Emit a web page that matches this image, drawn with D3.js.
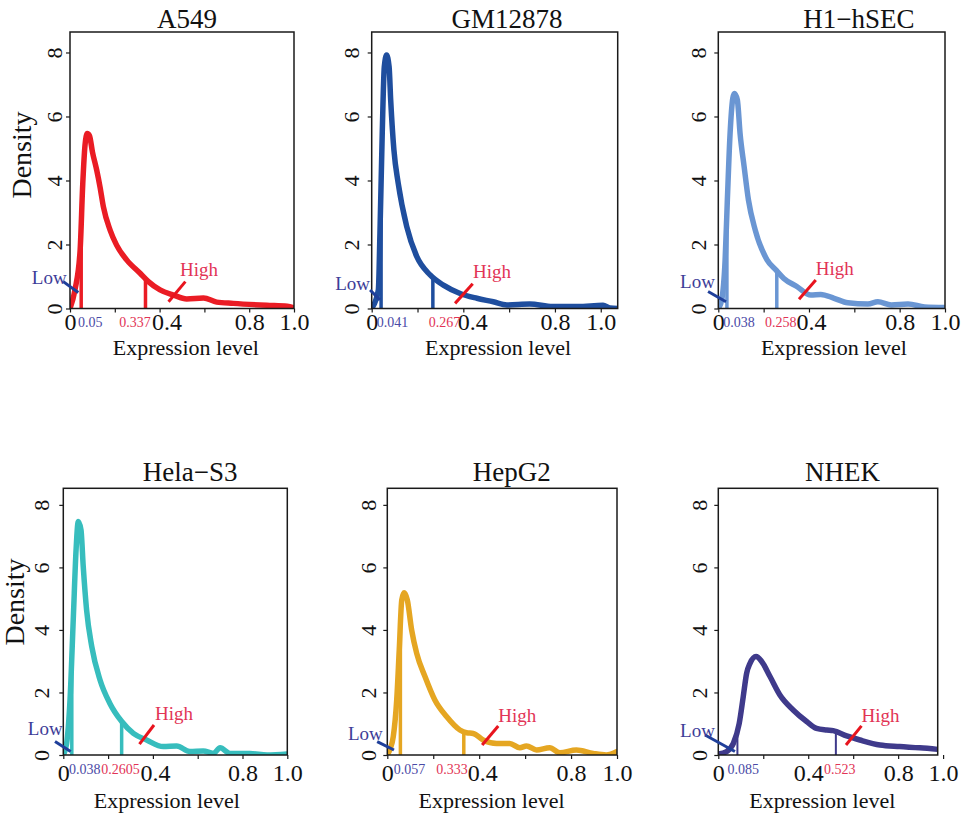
<!DOCTYPE html>
<html><head><meta charset="utf-8">
<script src="https://cdn.jsdelivr.net/npm/d3@7"></script>
<style>
body{margin:0;background:#fff}
svg{display:block}
text{font-family:"Liberation Serif","Times New Roman",serif}
</style>
</head><body>
<svg id="chart" width="963" height="816"></svg>
<script>
// ---------------- data ----------------
const cellLines = ["A549", "GM12878", "H1\u2212hSEC", "Hela\u2212S3", "HepG2", "NHEK"];
const lineColors = ["#ea1c24", "#1f4e9e", "#6a96d3", "#37bdbd", "#e5a622", "#3f3a8b"];
const lowThresh = [0.05, 0.041, 0.038, 0.038, 0.057, 0.085];
const highThresh = [0.337, 0.267, 0.258, 0.2605, 0.333, 0.523];
const lowLabels = ["0.05", "0.041", "0.038", "0.038", "0.057", "0.085"];
const highLabels = ["0.337", "0.267", "0.258", "0.2605", "0.333", "0.523"];
const xTicks = [0, 0.2, 0.4, 0.6, 0.8, 1.0];
const xTickLabels = ["0", "", "0.4", "", "0.8", "1.0"];
const yTicks = [0, 2, 4, 6, 8];
const xMax = [1.0, 1.074, 1.0, 1.0, 1.0, 0.976];

const densityX = [
  [0, .022, .045, .057, .067, .077, .087, .1, .119, .134, .149, .179, .208, .253, .313, .35, .402, .462, .521, .596, .655, .729, .878, .97, 1.0],
  [0, .029, .036, .046, .055, .065, .076, .083, .097, .116, .153, .197, .255, .313, .386, .459, .531, .59, .69, .79, .9, 1.01, 1.04, 1.074],
  [0, .015, .03, .04, .052, .064, .071, .084, .096, .114, .133, .163, .215, .256, .289, .348, .408, .452, .511, .571, .66, .704, .763, .837, .91, 1.0],
  [0, .015, .03, .045, .057, .067, .079, .089, .104, .127, .164, .208, .261, .313, .372, .446, .506, .565, .625, .67, .7, .744, .833, .91, 1.0],
  [0, .012, .026, .041, .052, .063, .073, .087, .106, .128, .164, .207, .258, .316, .345, .374, .417, .476, .533, .577, .606, .65, .707, .751, .823, .896, .953, 1.0],
  [0, .037, .067, .093, .111, .126, .141, .168, .193, .23, .274, .333, .393, .437, .482, .511, .571, .63, .719, .807, .896, .976]
];
const densityY = [
  [0, .58, 1.8, 3.9, 5.1, 5.47, 5.4, 4.9, 4.33, 3.8, 3.18, 2.45, 1.98, 1.52, 1.1, .84, .58, .42, .3, .33, .2, .16, .1, .07, .02],
  [0, .58, 2.35, 5.47, 7.55, 7.92, 7.55, 6.5, 4.95, 3.9, 2.56, 1.62, 1.05, .73, .47, .32, .21, .11, .14, .06, .06, .1, .02, 0],
  [0, .27, 1.5, 3.4, 5.47, 6.57, 6.72, 6.52, 5.47, 4.43, 3.39, 2.45, 1.52, 1.19, .94, .68, .42, .44, .32, .18, .14, .21, .11, .14, .05, .03],
  [0, .37, 1.76, 4.43, 6.56, 7.47, 7.2, 6.03, 4.64, 3.47, 2.4, 1.65, 1.07, .69, .48, .27, .29, .11, .13, .05, .23, .05, .05, 0, .03],
  [.02, .18, .59, 1.76, 3.36, 4.96, 5.19, 4.96, 4.0, 3.25, 2.51, 1.76, 1.23, .8, .71, .69, .48, .37, .37, .23, .29, .16, .23, .07, .16, .05, 0, .11],
  [.03, .11, .37, 1.01, 1.87, 2.61, 2.93, 3.15, 2.99, 2.51, 1.92, 1.44, 1.07, .85, .8, .78, .61, .48, .32, .27, .23, .18]
];

// annotation anchors (data units)
const lowMarkX1 = [-.03, -.007, -.045, -.037, -.044, -.059];
const lowMarkY1 = [.84, .58, .53, .43, .43, .64];
const lowMarkX2 = [.037, .036, .034, .033, .029, .074];
const lowMarkY2 = [.5, .27, .21, .11, .16, .11];
const highMarkX1 = [.44, .364, .356, .34, .413, .568];
const highMarkY1 = [.21, .16, .29, .35, .32, .32];
const highMarkX2 = [.515, .441, .43, .405, .483, .637];
const highMarkY2 = [.84, .77, .89, .96, .93, .93];
const lowTextX = [-.015, -.007, -.015, -.003, -.02, -.015];
const lowTextY = [.78, .58, .63, .64, .48, .59];
const highTextX = [.491, .442, .43, .409, .483, .637];
const highTextY = [1.0, .94, 1.05, 1.12, 1.07, 1.07];
const lowLabelX = [.09, .091, .091, .096, .097, .111];
const highLabelX = [.29, .318, .275, .255, .282, .54];
const titleX = [.522, .591, .62, .566, .542, .553];
const xLabelX = [.517, .552, .51, .462, .454, .463];

// ---------------- layout ----------------
const boxes = [
  {l: 70, r: 294, t: 32, b: 308.5, yTop: 8.64, tickGap: 8, shift04: 7},
  {l: 371.7, r: 617.7, t: 32, b: 308.5, yTop: 8.64, tickGap: 13, shift04: 9},
  {l: 718.3, r: 945, t: 32, b: 308.5, yTop: 8.64, tickGap: 12, shift04: 2},
  {l: 63.3, r: 287.3, t: 488.3, b: 755, yTop: 8.53, tickGap: 14, shift04: 2},
  {l: 387.3, r: 617, t: 488.3, b: 755, yTop: 8.53, tickGap: 11, shift04: 3},
  {l: 718.3, r: 937.7, t: 488.3, b: 755, yTop: 8.53, tickGap: 11, shift04: 0}
];
const rowText = [
  {title: 28, tick: 330, small: 327, xlab: 355, density: 155},
  {title: 481, tick: 781, small: 774, xlab: 808, density: 602}
];

const svg = d3.select("#chart");
const LOWC = "#1f3f9a", LOWT = "#3d3d98", HIGHC = "#e8141e", HIGHT = "#e23456";

function interp(xs, ys, x) {
  const i = d3.bisectRight(xs, x);
  if (i <= 0) return ys[0];
  if (i >= xs.length) return ys[ys.length - 1];
  const t = (x - xs[i - 1]) / (xs[i] - xs[i - 1]);
  return ys[i - 1] + t * (ys[i] - ys[i - 1]);
}

cellLines.forEach((name, k) => {
  const bx = boxes[k];
  const rt = rowText[k < 3 ? 0 : 1];
  const x = d3.scaleLinear().domain([0, xMax[k]]).range([bx.l, bx.r]);
  const y = d3.scaleLinear().domain([0, bx.yTop]).range([bx.b, bx.t]);
  const g = svg.append("g");

  const clipId = "clip" + k;
  svg.append("clipPath").attr("id", clipId).append("rect")
    .attr("x", bx.l).attr("y", bx.t).attr("width", bx.r - bx.l).attr("height", bx.b - bx.t);

  const pts = densityX[k].map((v, i) => [v, densityY[k][i]]);
  const line = d3.line().x(d => x(d[0])).y(d => y(d[1])).curve(d3.curveMonotoneX);

  const pg = g.append("g").attr("clip-path", `url(#${clipId})`);
  const tw = k === 5 ? 2 : 3.5;
  [lowThresh[k], highThresh[k]].forEach(tv => {
    pg.append("line").attr("x1", x(tv)).attr("x2", x(tv))
      .attr("y1", y(0)).attr("y2", y(interp(densityX[k], densityY[k], tv)))
      .attr("stroke", lineColors[k]).attr("stroke-width", tw);
  });
  pg.append("path").datum(pts).attr("d", line).attr("fill", "none")
    .attr("stroke", lineColors[k]).attr("stroke-width", 5.5)
    .attr("stroke-linejoin", "round").attr("stroke-linecap", "round");

  // box
  g.append("rect").attr("x", bx.l).attr("y", bx.t).attr("width", bx.r - bx.l).attr("height", bx.b - bx.t)
    .attr("fill", "none").attr("stroke", "#1a1a1a").attr("stroke-width", 1.5);

  // x axis ticks
  const xa = d3.axisBottom(x).tickValues(xTicks).tickSize(4).tickSizeOuter(0)
    .tickFormat((d, i) => xTickLabels[i]);
  const xg = g.append("g").attr("transform", `translate(0,${bx.b})`).call(xa);
  xg.select(".domain").remove();
  xg.selectAll(".tick line").attr("stroke", "#1a1a1a").attr("stroke-width", 1.2);
  xg.selectAll(".tick text").attr("font-size", 24).attr("fill", "#111")
    .attr("font-family", "Liberation Serif, serif").attr("dy", null)
    .attr("y", rt.tick - bx.b)
    .attr("x", d => Math.abs(d - 0.4) < 1e-9 ? bx.shift04 : 0);

  // y axis ticks
  const ya = d3.axisLeft(y).tickValues(yTicks).tickSize(4).tickSizeOuter(0).tickFormat(d3.format("d"));
  const yg = g.append("g").attr("transform", `translate(${bx.l},0)`).call(ya);
  yg.select(".domain").remove();
  yg.selectAll(".tick line").attr("stroke", "#1a1a1a").attr("stroke-width", 1.2);
  yg.selectAll(".tick text").attr("font-size", 22).attr("fill", "#111")
    .attr("font-family", "Liberation Serif, serif")
    .attr("x", null).attr("dy", null).attr("text-anchor", "middle")
    .attr("transform", `translate(${-bx.tickGap},0) rotate(-90)`);

  // title
  g.append("text").attr("x", x(titleX[k])).attr("y", rt.title).attr("text-anchor", "middle")
    .attr("font-size", 27).attr("fill", "#111").text(name);
  // x label
  g.append("text").attr("x", x(xLabelX[k])).attr("y", rt.xlab).attr("text-anchor", "middle")
    .attr("font-size", 22).attr("fill", "#111").text("Expression level");
  // density label
  if (k === 0 || k === 3) {
    g.append("text").attr("transform", `translate(${bx.l - 39},${rt.density}) rotate(-90)`)
      .attr("text-anchor", "middle").attr("font-size", 28).attr("fill", "#111").text("Density");
  }

  // threshold labels
  g.append("text").attr("x", x(lowLabelX[k])).attr("y", rt.small).attr("text-anchor", "middle")
    .attr("font-size", 14).attr("fill", "#4a4aa6").text(lowLabels[k]);
  g.append("text").attr("x", x(highLabelX[k])).attr("y", rt.small).attr("text-anchor", "middle")
    .attr("font-size", 14).attr("fill", HIGHT).text(highLabels[k]);

  // Low / High markers
  g.append("line").attr("x1", x(lowMarkX1[k])).attr("y1", y(lowMarkY1[k]))
    .attr("x2", x(lowMarkX2[k])).attr("y2", y(lowMarkY2[k]))
    .attr("stroke", LOWC).attr("stroke-width", 3);
  g.append("text").attr("x", x(lowTextX[k])).attr("y", y(lowTextY[k])).attr("text-anchor", "end")
    .attr("font-size", 19).attr("fill", LOWT).text("Low");
  g.append("line").attr("x1", x(highMarkX1[k])).attr("y1", y(highMarkY1[k]))
    .attr("x2", x(highMarkX2[k])).attr("y2", y(highMarkY2[k]))
    .attr("stroke", HIGHC).attr("stroke-width", 3);
  g.append("text").attr("x", x(highTextX[k])).attr("y", y(highTextY[k])).attr("text-anchor", "start")
    .attr("font-size", 19).attr("fill", HIGHT).text("High");
});
</script>
</body></html>
